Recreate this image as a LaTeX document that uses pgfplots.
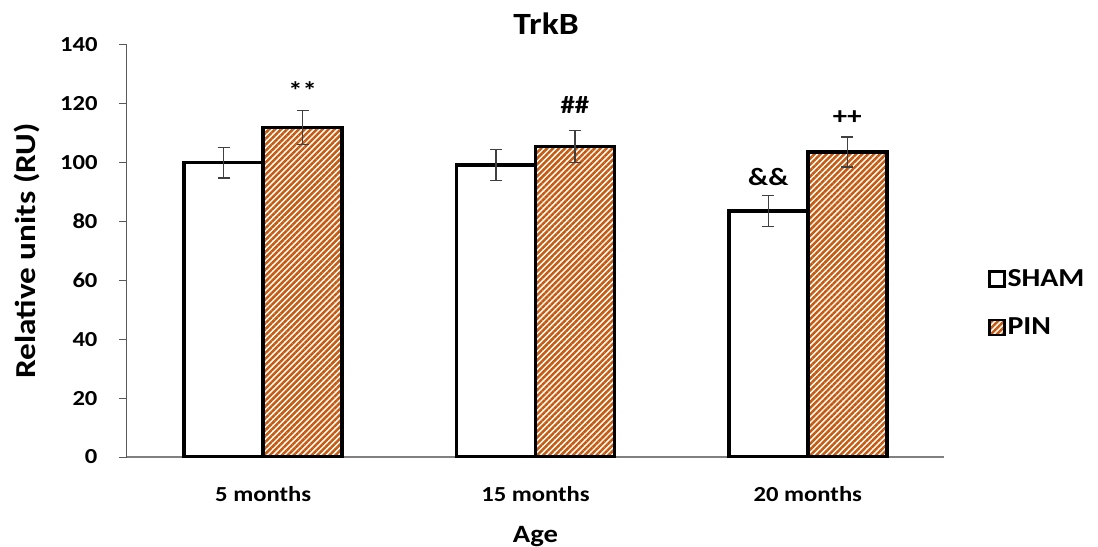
\documentclass[border=0pt]{standalone}
\usepackage{fontspec}
\setmainfont{Carlito}
\usepackage{graphicx}
\usepackage{pgfplots}
\pgfplotsset{compat=1.18}
\usetikzlibrary{patterns.meta}
\definecolor{pinorange}{HTML}{C55A11}
\definecolor{axgray}{HTML}{808080}
\newcommand{\sx}[1]{\scalebox{1.15}[1]{#1}}

\begin{document}
\begin{tikzpicture}
\useasboundingbox (-127bp,-90bp) rectangle (971bp,457bp);
\begin{axis}[
  at={(0,0)}, anchor=south west,
  scale only axis, width=817bp, height=412bp,
  xmin=-0.5, xmax=2.5, ymin=0, ymax=140,
  axis x line=bottom, axis y line=left,
  axis line style={-},
  x axis line style={draw=axgray, line width=1.6bp},
  y axis line style={draw=black!65, line width=1bp},
  xtick={0,1,2}, xticklabels={\sx{5 months},\sx{15 months},\sx{20 months}},
  ytick={0,20,...,140},
  yticklabel={\sx{\pgfmathprintnumber{\tick}}},
  tick align=outside,
  major tick length=8bp,
  x tick style={draw=none},
  y tick style={draw=black!65, line width=1bp},
  /pgf/number format/assume math mode=true,
  ticklabel style={font=\bfseries\fontsize{21.5}{21.5}\selectfont},
  xticklabel style={anchor=center, yshift=-29bp},
  yticklabel style={xshift=-18bp},
  ylabel={\sx{Relative units (RU)}},
  ylabel style={at={(axis description cs:-0.1224,0.5)}, anchor=center, font=\bfseries\fontsize{29}{29}\selectfont},
  xlabel={\sx{Age}},
  xlabel style={at={(axis description cs:0.5,-0.193)}, anchor=center, font=\bfseries\fontsize{25}{25}\selectfont},
  title={\sx{TrkB}},
  title style={at={(axis description cs:0.513,1.038)}, anchor=center, font=\bfseries\fontsize{31}{31}\selectfont},
  ybar, bar width=0.29,
  legend style={at={(axis description cs:1.054,0.46)}, anchor=north west, draw=none, fill=none,
    font=\bfseries\fontsize{26}{26}\selectfont, row sep=26bp, inner sep=0pt},
  legend cell align=left,
  legend image code/.code={\draw[#1, draw=black, line width=2.2bp] (0bp,-7.5bp) rectangle (15bp,7.5bp);},
  error bars/y dir=both, error bars/y explicit,
  error bars/error bar style={line width=1.3bp, draw=black!75},
  error bars/error mark options={rotate=90, mark size=6bp, line width=1.3bp, draw=black!75},
]
\addplot[fill=white, draw=black, line width=3.5bp, bar shift=-0.145]
  coordinates {(0,100) +- (0,5.2) (1,99.2) +- (0,5.2) (2,83.6) +- (0,5.2)};
\addplot[pattern={Lines[angle=45,distance=4.2bp,line width=2.5bp]}, pattern color=pinorange, draw=black, line width=3.5bp, bar shift=0.145]
  coordinates {(0,112) +- (0,5.7) (1,105.5) +- (0,5.5) (2,103.6) +- (0,5.1)};
\legend{\sx{SHAM}, \sx{PIN}}
\node[font=\bfseries\fontsize{25}{25}\selectfont] at (axis cs:0.145,124.5) {\sx{**}};
\node[font=\bfseries\fontsize{25}{25}\selectfont] at (axis cs:1.145,119.6) {\sx{\#\#}};
\node[font=\bfseries\fontsize{25}{25}\selectfont] at (axis cs:1.855,95) {\sx{\&\&}};
\node[font=\bfseries\fontsize{25}{25}\selectfont] at (axis cs:2.145,115.2) {\sx{++}};
\end{axis}
\end{tikzpicture}
\end{document}
